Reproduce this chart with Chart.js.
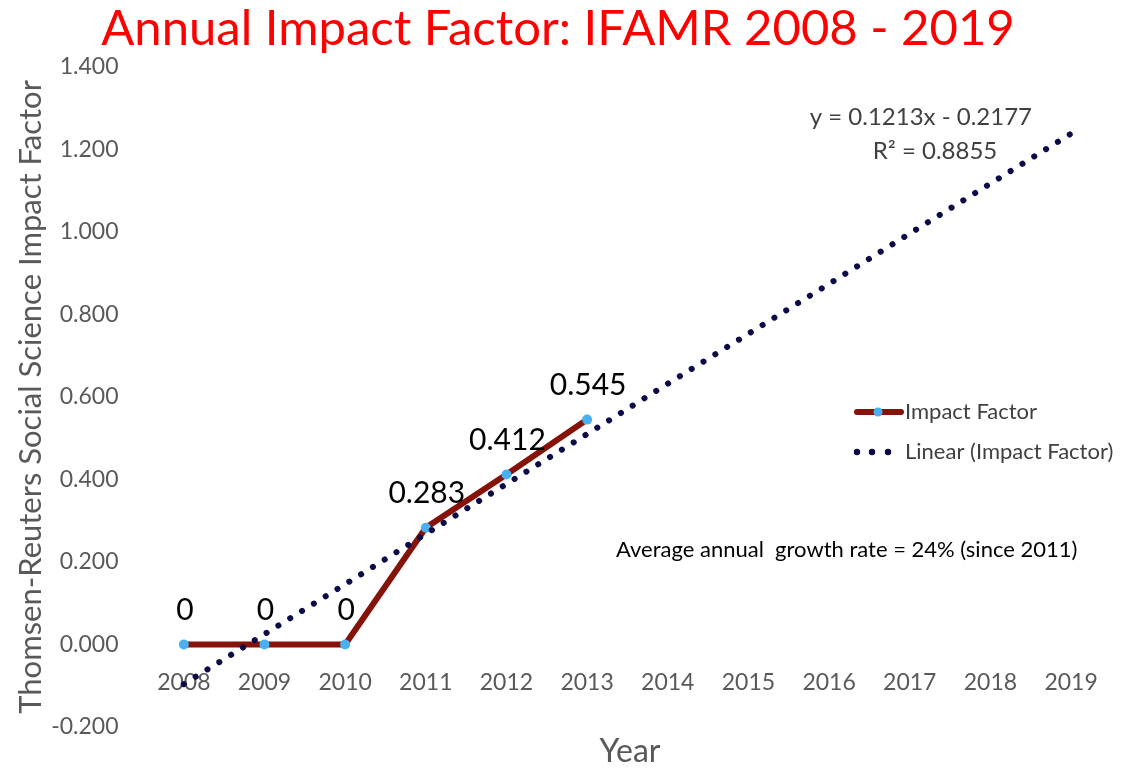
<!DOCTYPE html>
<html>
<head>
<meta charset="utf-8">
<script src="https://cdn.jsdelivr.net/npm/chart.js@4.4.0/dist/chart.umd.min.js"></script>
<style>
  html, body { margin: 0; padding: 0; background: #fff; }
  #wrap { width: 1122px; height: 770px; }
</style>
</head>
<body>
<div id="wrap"><canvas id="impactChart" width="1122" height="770"></canvas></div>
<script>
// Chart values
const years = ['2008', '2009', '2010', '2011', '2012', '2013', '2014', '2015', '2016', '2017', '2018', '2019'];
const impactFactor = [0, 0, 0, 0.283, 0.412, 0.545, null, null, null, null, null, null];
const impactLabels = ['0', '0', '0', '0.283', '0.412', '0.545'];
const linearTrend = [-0.096, 0.025, 0.146, 0.268, 0.389, 0.510, 0.632, 0.753, 0.874, 0.996, 1.117, 1.238];
const trendEquation = 'y = 0.1213x - 0.2177';
const trendR2 = 'R² = 0.8855';
const growthNote = 'Average annual  growth rate = 24% (since 2011)';

const FONT = 'Lato, "Open Sans", sans-serif';
const lineRed = '#86130a';
const pointBlue = '#4ab0f2';
const trendNavy = '#0b0b48';

/**
 * Draws the data labels, trend equation, note, x title and legend
 */
const annotations = {
  id: 'annotations',
  afterDatasetsDraw(chart) {
    const ctx = chart.ctx;
    const meta = chart.getDatasetMeta(0);
    ctx.save();

    // value labels above the points
    ctx.font = '30px ' + FONT;
    ctx.fillStyle = '#000';
    ctx.textAlign = 'center';
    ctx.textBaseline = 'middle';
    impactLabels.forEach((txt, i) => {
      const pt = meta.data[i];
      ctx.fillText(txt, pt.x + 1, pt.y - 34);
    });

    // trendline equation
    ctx.fillStyle = '#404040';
    ctx.font = '24px ' + FONT;
    ctx.textAlign = 'right';
    ctx.fillText(trendEquation, 1032, 117);
    ctx.textAlign = 'center';
    ctx.fillText(trendR2, 935, 151);

    // growth note
    ctx.fillStyle = '#000';
    ctx.font = '22px ' + FONT;
    ctx.textAlign = 'left';
    ctx.fillText(growthNote, 616, 550);

    // x axis title
    ctx.fillStyle = '#595959';
    ctx.font = '32px ' + FONT;
    ctx.textAlign = 'center';
    ctx.fillText('Year', 630, 752);

    // legend
    ctx.lineCap = 'round';
    ctx.strokeStyle = lineRed;
    ctx.lineWidth = 6;
    ctx.beginPath();
    ctx.moveTo(857, 412);
    ctx.lineTo(901, 412);
    ctx.stroke();
    ctx.fillStyle = pointBlue;
    ctx.beginPath();
    ctx.arc(878, 412, 4.5, 0, Math.PI * 2);
    ctx.fill();
    ctx.fillStyle = trendNavy;
    [857, 872, 888].forEach(x => {
      ctx.beginPath();
      ctx.arc(x, 452, 3.2, 0, Math.PI * 2);
      ctx.fill();
    });
    ctx.fillStyle = '#404040';
    ctx.font = '22px ' + FONT;
    ctx.textAlign = 'left';
    ctx.fillText('Impact Factor', 905, 412);
    ctx.fillText('Linear (Impact Factor)', 905, 452);

    ctx.restore();
  }
};

const chart = new Chart(document.getElementById('impactChart'), {
  type: 'line',
  data: {
    labels: years,
    datasets: [{
      label: 'Impact Factor',
      data: impactFactor,
      borderColor: lineRed,
      borderWidth: 6,
      pointBackgroundColor: pointBlue,
      pointBorderWidth: 0,
      pointRadius: 5,
      tension: 0,
      order: 2
    }, {
      label: 'Linear (Impact Factor)',
      data: linearTrend,
      borderColor: trendNavy,
      borderWidth: 6,
      borderDash: [0.1, 13.8],
      borderCapStyle: 'round',
      pointRadius: 0,
      tension: 0,
      order: 1
    }]
  },
  options: {
    responsive: false,
    animation: false,
    layout: {
      padding: { top: 0, bottom: 43, left: 0, right: 6 }
    },
    plugins: {
      legend: { display: false },
      tooltip: { enabled: false },
      title: {
        display: true,
        text: 'Annual Impact Factor: IFAMR 2008 - 2019',
        color: '#ff0000',
        font: { family: FONT, size: 49, weight: 'normal' },
        padding: { top: 0, bottom: 8 }
      }
    },
    scales: {
      x: {
        position: { y: 0 },
        offset: true,
        grid: { display: false, drawTicks: false },
        border: { display: false },
        ticks: {
          color: '#595959',
          font: { family: FONT, size: 23 },
          padding: 24,
          maxRotation: 0
        }
      },
      y: {
        min: -0.2,
        max: 1.4,
        grid: { display: false, drawTicks: false },
        border: { display: false },
        ticks: {
          stepSize: 0.2,
          color: '#595959',
          font: { family: FONT, size: 23 },
          padding: 25,
          callback: v => (Math.abs(v) < 1e-9 ? 0 : v).toFixed(3)
        },
        title: {
          display: true,
          text: 'Thomsen-Reuters Social Science Impact Factor',
          color: '#595959',
          font: { family: FONT, size: 31 },
          padding: { top: 12, bottom: 0 }
        },
        afterFit(scale) {
          scale.width = 143.5;
        }
      }
    }
  },
  plugins: [annotations]
});
</script>
</body>
</html>
